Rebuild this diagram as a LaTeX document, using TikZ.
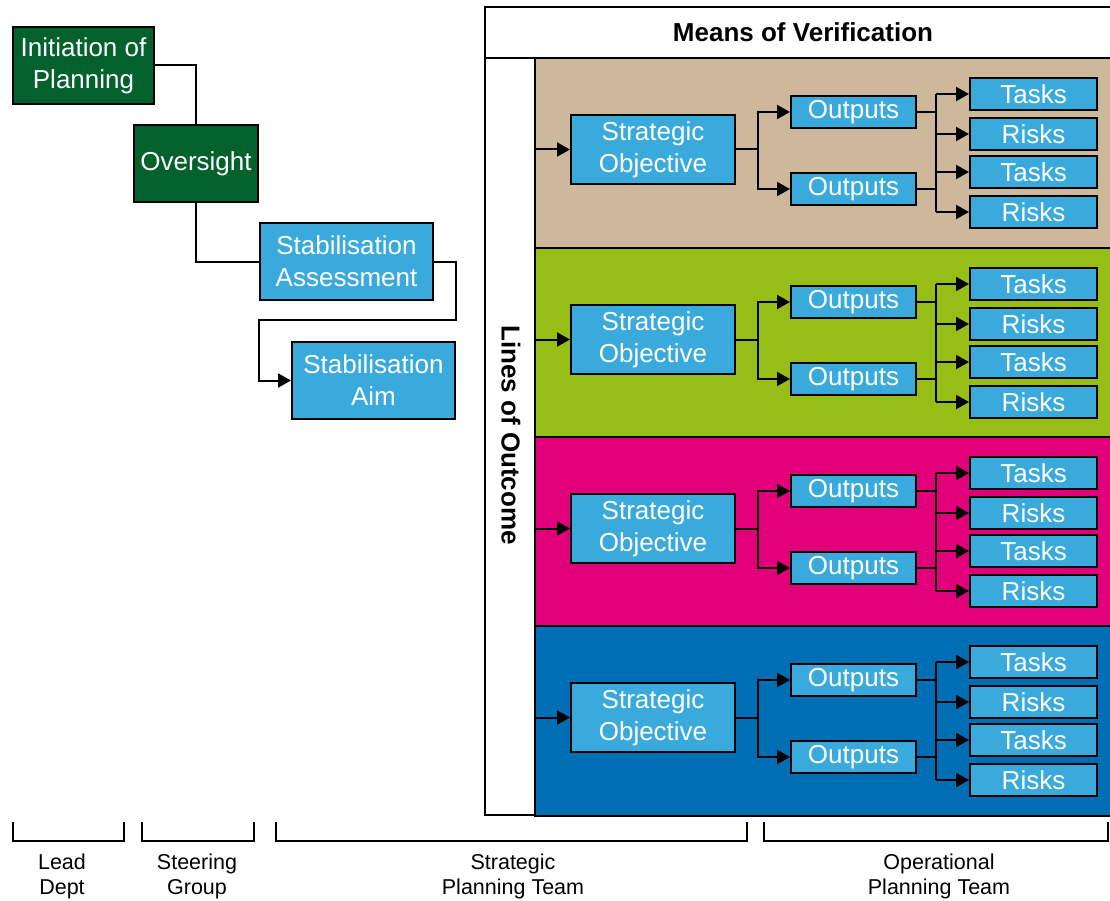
\documentclass[tikz,border=0pt]{standalone}
\usepackage{fontspec}
\setmainfont{Liberation Sans}
\usetikzlibrary{arrows.meta,calc}
\definecolor{dkgreen}{HTML}{03612C}
\definecolor{boxblue}{HTML}{3AAADC}
\definecolor{bandtan}{HTML}{CEB89C}
\definecolor{bandlime}{HTML}{97BE17}
\definecolor{bandmag}{HTML}{E1007A}
\definecolor{bandblue}{HTML}{006EB4}
\begin{document}
\begin{tikzpicture}[x=1pt,y=-1pt,line width=2pt,
  arr/.style={-{Triangle[length=13pt,width=14pt]}},
  box/.style={draw=black,line width=2pt,align=center,inner sep=0pt,text=white,font=\fontsize{26}{32}\selectfont},
  gbox/.style={box,fill=dkgreen},
  bbox/.style={box,fill=boxblue},
  framebox/.style={draw=black,line width=2pt,inner sep=0pt},
  bandbox/.style={framebox},
  headtxt/.style={font=\bfseries\fontsize{26}{30}\selectfont},
  team/.style={align=center,font=\fontsize{21.5}{25}\selectfont},
  bracket/.style={line width=2.6pt}]
\useasboundingbox (0,0) rectangle (1110,901);

% left chain
\node[gbox,minimum width=141pt,minimum height=77pt] (init) at (83.5,65.5) {Initiation of\\Planning};
\node[gbox,minimum width=124pt,minimum height=77pt] (over) at (196,163.5) {Oversight};
\node[bbox,minimum width=173pt,minimum height=77pt] (sa) at (346.5,261.5) {Stabilisation\\Assessment};
\node[bbox,minimum width=163pt,minimum height=77pt] (aim) at (373.5,380.5) {Stabilisation\\Aim};
\coordinate (bend) at (259,320);
\draw (init.east) -| (over.north);
\draw (over.south) |- (sa.west);
\draw[arr] (sa.east) -- ++(22,0) |- (bend) |- (aim.west);

% header and side column
\node[framebox,minimum width=636pt,minimum height=51pt,headtxt] (mov) at (803,32.5) {Means of Verification};
\node[framebox,minimum width=50pt,minimum height=757pt] (loc) at (510,436.5) {};
\node[rotate=-90,headtxt] (loctxt) at (511,435) {Lines of Outcome};

% bands
\foreach \i/\off/\col in {1/0/bandtan,2/190/bandlime,3/379/bandmag,4/568/bandblue}{
  \node[bandbox,fill=\col,minimum width=586pt,minimum height=190pt] (band\i) at (828,153+\off) {};
  \node[bbox,minimum width=164pt,minimum height=69pt] (so\i) at (653,149.5+\off) {Strategic\\Objective};
  \node[bbox,minimum width=125pt,minimum height=32pt] (oa\i) at (853.5,112+\off) {Outputs};
  \node[bbox,minimum width=125pt,minimum height=32pt] (ob\i) at (853.5,189+\off) {Outputs};
  \node[bbox,minimum width=127pt,minimum height=32pt] (ta\i) at (1033.5,94+\off) {Tasks};
  \node[bbox,minimum width=127pt,minimum height=32pt] (ra\i) at (1033.5,134+\off) {Risks};
  \node[bbox,minimum width=127pt,minimum height=32pt] (tb\i) at (1033.5,172+\off) {Tasks};
  \node[bbox,minimum width=127pt,minimum height=32pt] (rb\i) at (1033.5,212+\off) {Risks};
  \draw[arr] (band\i.west |- so\i.west) -- (so\i.west);
  \draw[arr] (so\i.east) -- ++(22,0) |- (oa\i.west);
  \draw[arr] (so\i.east) -- ++(22,0) |- (ob\i.west);
  \coordinate (j\i) at ([xshift=19pt]oa\i.east);
  \draw (oa\i.east) -- (j\i);
  \draw (ob\i.east) -- (ob\i.east -| j\i);
  \draw (j\i |- ta\i.west) -- (j\i |- rb\i.west);
  \foreach \n in {ta,ra,tb,rb}{
    \draw[arr] (j\i |- \n\i.west) -- (\n\i.west);
  }
}

% team brackets
\draw[bracket] (13,822) -- (13,841) -- (124,841) -- (124,822);
\draw[bracket] (142,822) -- (142,841) -- (254,841) -- (254,822);
\draw[bracket] (276,822) -- (276,841) -- (747,841) -- (747,822);
\draw[bracket] (764,822) -- (764,841) -- (1108,841) -- (1108,822);
\node[team] (lead) at (62,876.5) {Lead\\Dept};
\node[team] (steer) at (197,876.5) {Steering\\Group};
\node[team] (strat) at (513,876.5) {Strategic\\Planning Team};
\node[team] (oper) at (939,876.5) {Operational\\Planning Team};
\end{tikzpicture}
\end{document}
